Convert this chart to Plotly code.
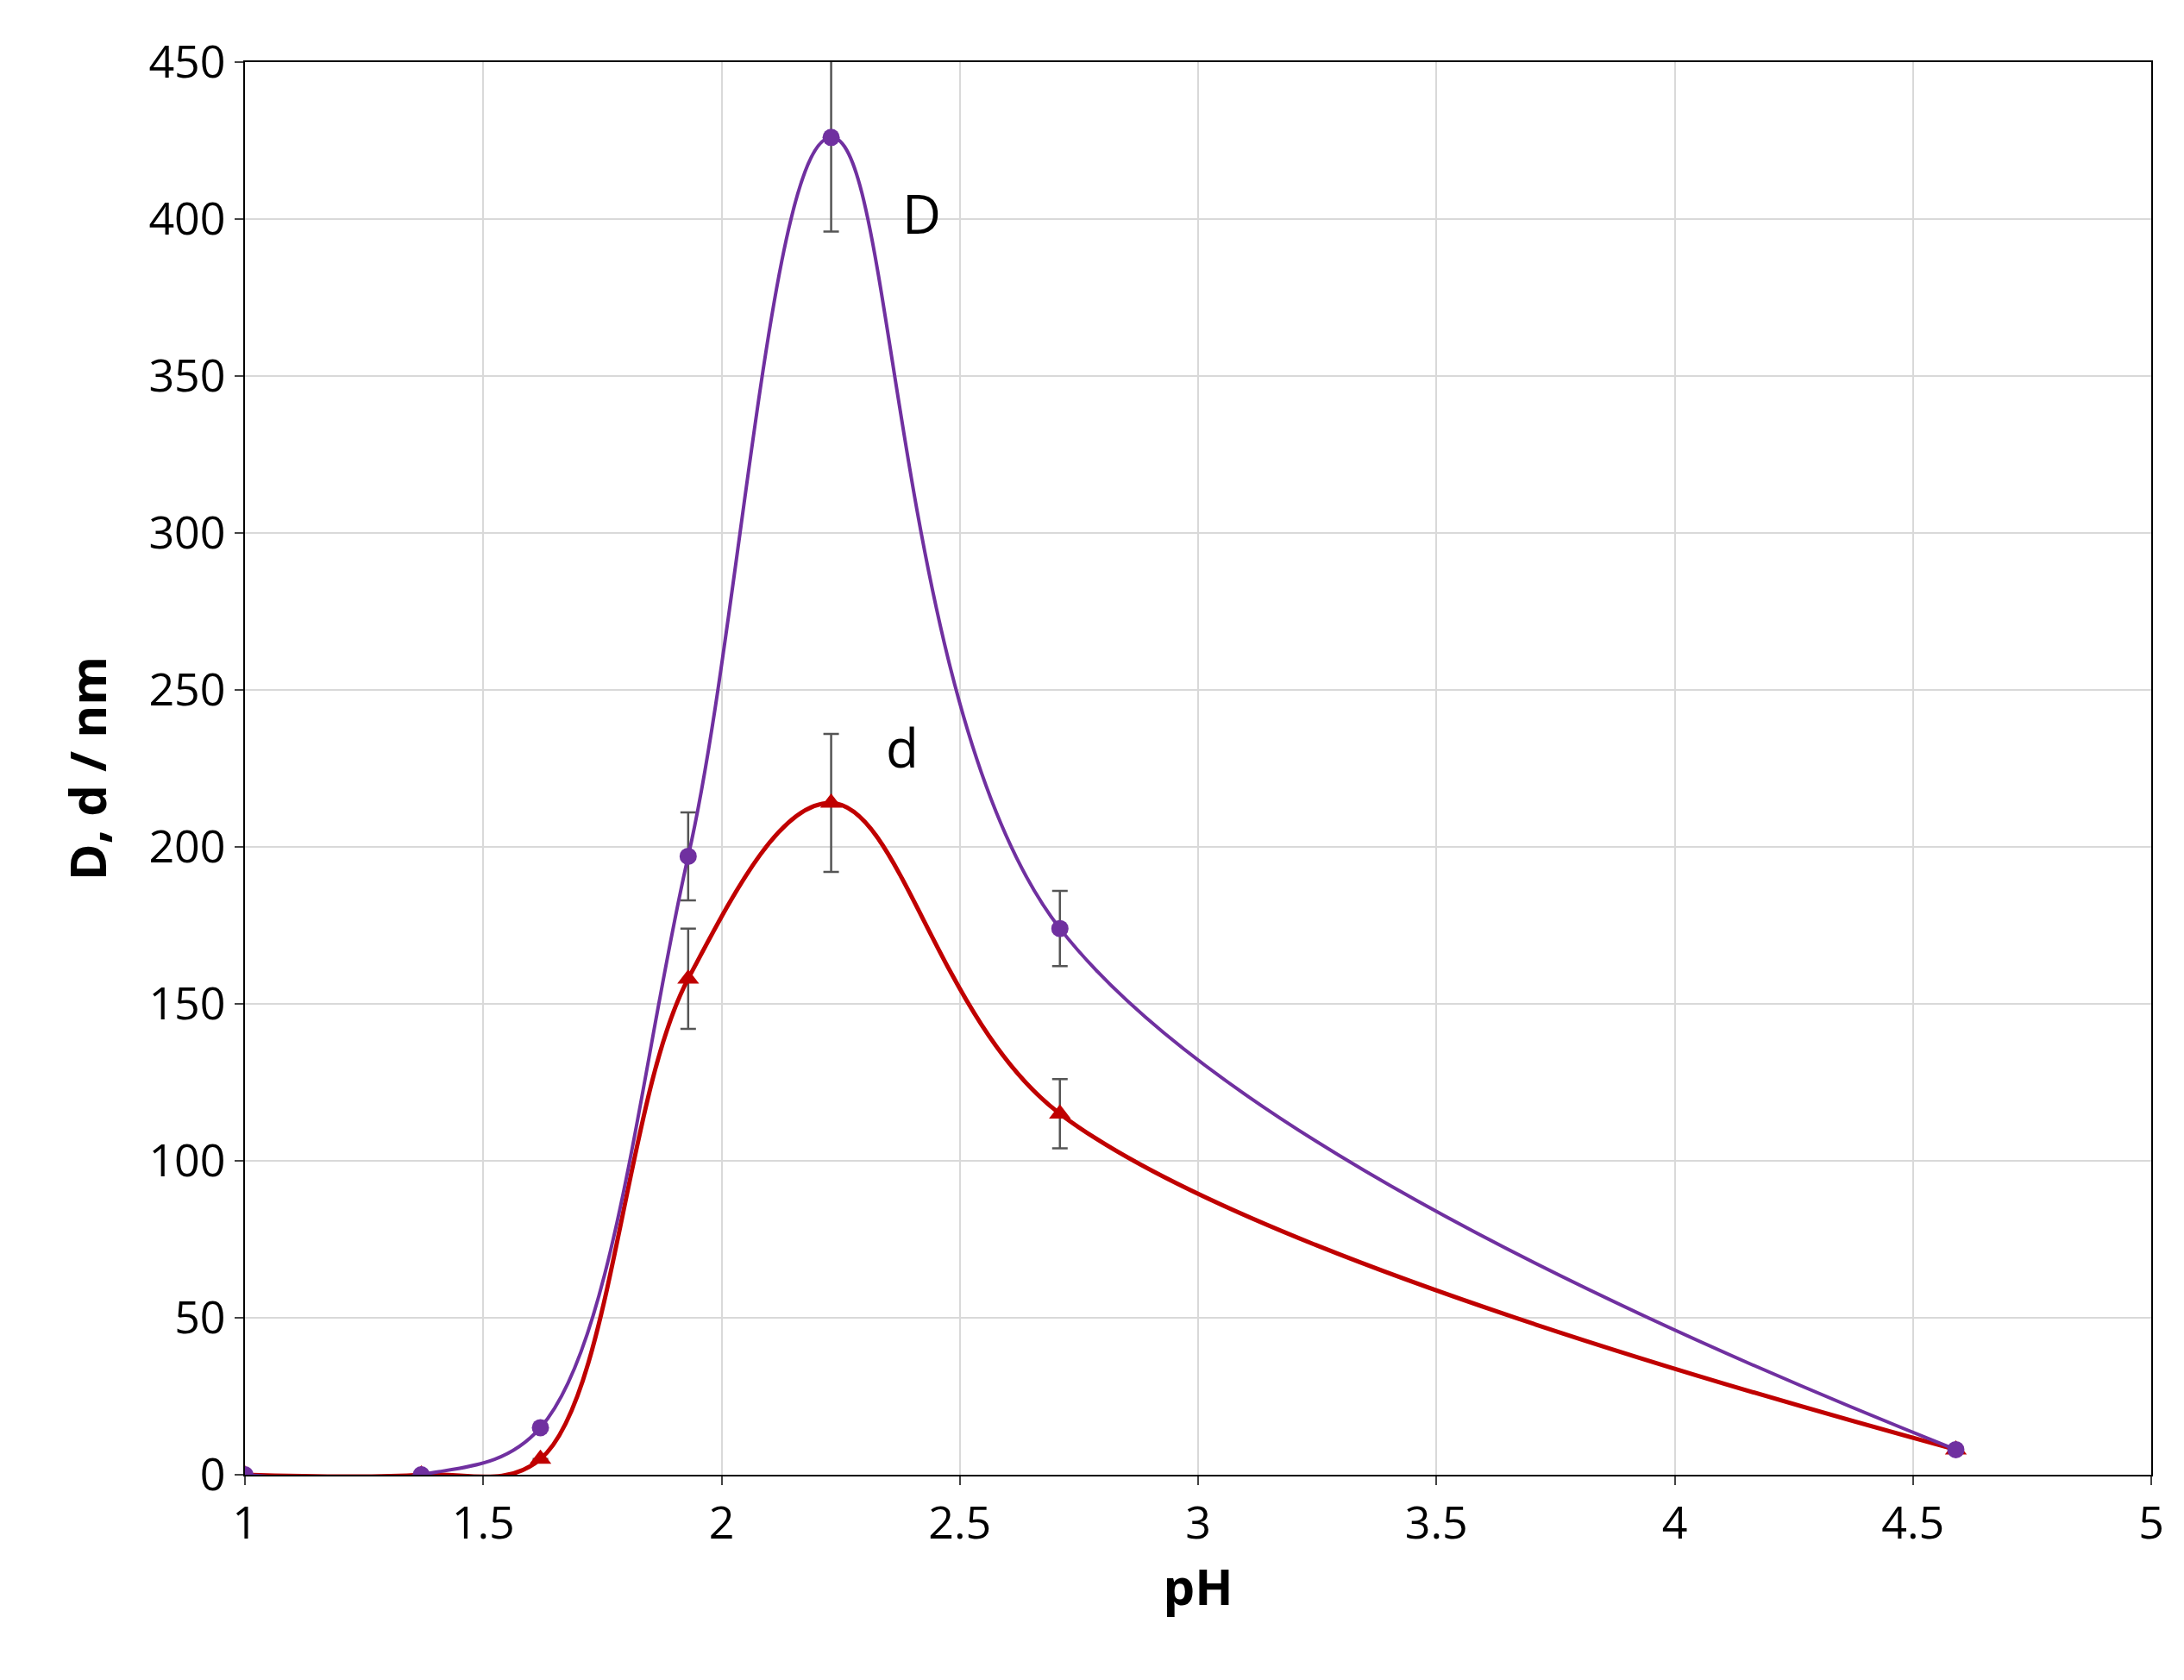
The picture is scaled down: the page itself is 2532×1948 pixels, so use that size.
import plotly.graph_objects as go

ph = [1, 1.37, 1.62, 1.93, 2.23, 2.71, 4.59]
D_vals = [0, 0, 15, 197, 426, 174, 8]
D_err = [0, 0, 0, 14, 30, 12, 0]
d_vals = [0, 0, 5, 158, 214, 115, 8]
d_err = [0, 0, 0, 16, 22, 11, 0]

purple = "#7030A0"
red = "#C00000"
font = "Open Sans"

fig = go.Figure()
fig.add_trace(go.Scatter(x=ph, y=d_vals, mode="lines+markers",
    line=dict(color=red, width=5, shape="spline", smoothing=1),
    marker=dict(symbol="triangle-up", size=22, color=red),
    error_y=dict(type="data", array=d_err, visible=True, color="#555", thickness=2.5, width=9)))
fig.add_trace(go.Scatter(x=ph, y=D_vals, mode="lines+markers",
    line=dict(color=purple, width=4, shape="spline", smoothing=1),
    marker=dict(symbol="circle", size=20, color=purple),
    error_y=dict(type="data", array=D_err, visible=True, color="#555", thickness=2.5, width=9)))

fig.add_annotation(x=2.42, y=402, text="D", showarrow=False, font=dict(size=62, color="black", family=font))
fig.add_annotation(x=2.38, y=232, text="d", showarrow=False, font=dict(size=62, color="black", family=font))

axis = dict(showgrid=True, gridcolor="#D9D9D9", gridwidth=2, showline=True, linecolor="black",
            linewidth=2, mirror=True, ticks="outside", ticklen=10, tickwidth=2,
            tickfont=dict(size=52, family=font, color="black"), zeroline=False)
fig.update_layout(
    width=2532, height=1948, showlegend=False,
    plot_bgcolor="white", paper_bgcolor="white",
    margin=dict(l=276, r=46, t=64, b=246),
    xaxis=dict(range=[1, 5], dtick=0.5, title=dict(text="<b>pH</b>", font=dict(size=58, family=font, color="black"), standoff=20), **axis),
    yaxis=dict(range=[0, 450], dtick=50, title=dict(text="<b>D, d / nm</b>", font=dict(size=58, family=font, color="black"), standoff=30), **axis),
)
fig.write_html("out.html")
